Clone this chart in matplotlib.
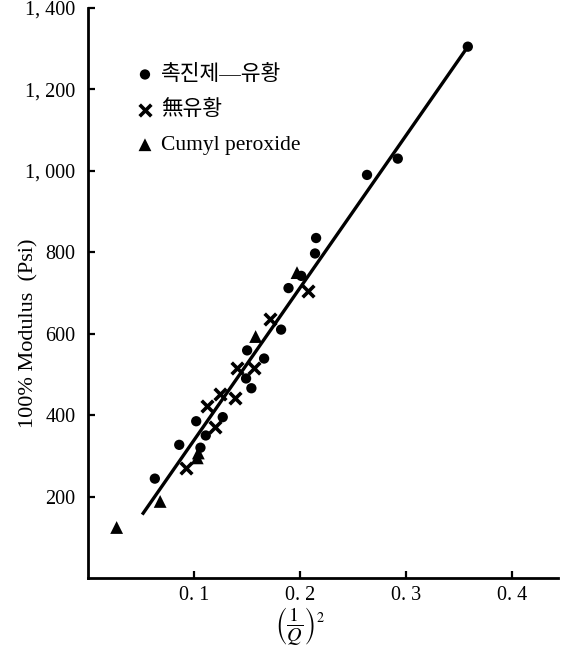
import matplotlib
matplotlib.use("Agg")
import matplotlib.pyplot as plt

# fontes: serif para numeros, CJK KR para o coreano
plt.rcParams['font.family'] = ['Liberation Serif', 'Noto Sans CJK KR']
plt.rcParams['mathtext.fontset'] = 'stix'

# dados
circ_x = [0.358, 0.292, 0.263, 0.215, 0.214, 0.201, 0.189, 0.182, 0.150, 0.166,
          0.149, 0.154, 0.127, 0.102, 0.111, 0.086, 0.106, 0.063]
circ_y = [1305, 1030, 990, 835, 797, 742, 712, 610, 559, 539,
          490, 466, 395, 385, 350, 327, 320, 244]

cross_x = [0.207, 0.172, 0.140, 0.156, 0.124, 0.139, 0.112, 0.120, 0.092]
cross_y = [705, 637, 515, 515, 451, 441, 422, 370, 271]

tri_x = [0.197, 0.158, 0.104, 0.103, 0.068, 0.027]
tri_y = [750, 593, 307, 295, 188, 124]

fit_x = [0.052, 0.358]
fit_y = [159, 1305]

labels = ['촉진제—유황', '無유황', 'Cumyl peroxide']
xticks = [0.1, 0.2, 0.3, 0.4]
xtick_labels = ['0. 1', '0. 2', '0. 3', '0. 4']
yticks = [200, 400, 600, 800, 1000, 1200, 1400]
ytick_labels = ['200', '400', '600', '800', '1, 000', '1, 200', '1, 400']

fig = plt.figure(figsize=(5.63, 6.55), dpi=100)
ax = fig.add_axes([0.1563, 0.1176, 0.8348, 0.8702])

# linha ajustada
ax.plot(fit_x, fit_y, color='black', lw=2.4, zorder=2)

# pontos
ax.scatter(circ_x, circ_y, marker='o', s=55, c='black', edgecolors='none', label=labels[0], zorder=3)
ax.scatter(cross_x, cross_y, marker='x', s=70, c='black', linewidths=2.6, label=labels[1], zorder=3)
ax.scatter(tri_x, tri_y, marker='^', s=85, c='black', edgecolors='none', label=labels[2], zorder=3)

ax.set_xlim(0, 0.443)
ax.set_ylim(0, 1400)
ax.set_xticks(xticks)
ax.set_xticklabels(xtick_labels)
ax.set_yticks(yticks)
ax.set_yticklabels(ytick_labels)
ax.tick_params(direction='in', length=5, width=1.6, labelsize=14.5, colors='black')
ax.tick_params(axis='y', pad=9)
ax.tick_params(axis='x', pad=6)

for side in ['top', 'right']:
    ax.spines[side].set_visible(False)
for side in ['left', 'bottom']:
    ax.spines[side].set_linewidth(2)

ax.set_ylabel('100% Modulus  (Psi)', fontsize=16)
ax.yaxis.set_label_coords(-0.105, 0.43)
ax.set_xlabel(r'$\left(\dfrac{1}{Q}\right)^{2}$', fontsize=14.5)
ax.xaxis.set_label_coords(0.45, -0.048)

leg = ax.legend(loc='upper left', bbox_to_anchor=(0.08, 0.915), frameon=False,
                fontsize=15.5, handletextpad=0.25, labelspacing=0.7,
                handlelength=1.0, borderaxespad=0)

fig.savefig('out.png', dpi=100)
